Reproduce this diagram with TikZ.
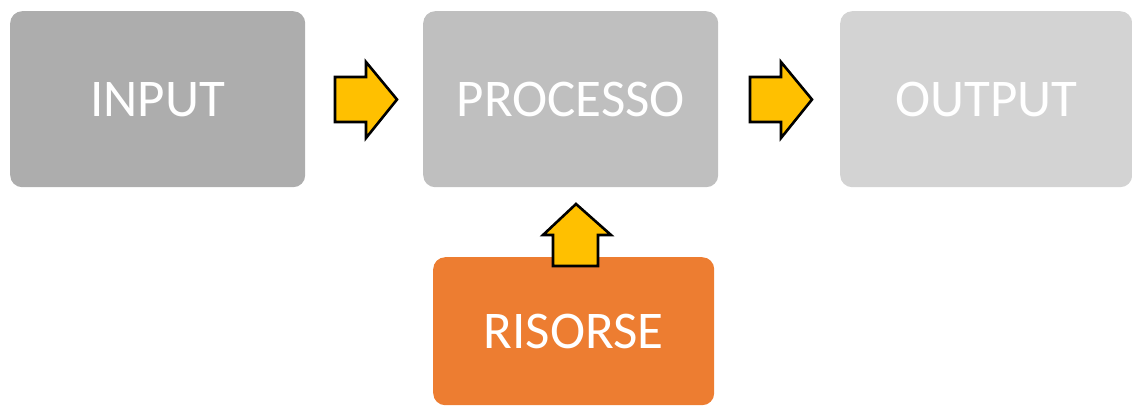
\documentclass[tikz,border=0pt]{standalone}
\usepackage{fontspec}
\setmainfont{Carlito}
\definecolor{inputgray}{HTML}{ADADAD}
\definecolor{procgray}{HTML}{BFBFBF}
\definecolor{outgray}{HTML}{D3D3D3}
\definecolor{resorange}{HTML}{ED7D31}
\definecolor{arrowgold}{HTML}{FFC000}
\tikzset{
  stagebox/.style={rounded corners=12pt, inner sep=0pt, anchor=north west,
    text=white, font=\fontsize{53}{60}\selectfont},
  blockarrow/.style={fill=arrowgold, draw=black, line width=2.6pt, line join=miter}
}
\begin{document}
\begin{tikzpicture}[x=1pt, y=-1pt]
\useasboundingbox (0,0) rectangle (1132,405);
% stage boxes
\node[stagebox, fill=inputgray, minimum width=295pt, minimum height=176pt] (in) at (10,11) {INPUT};
\node[stagebox, fill=procgray, minimum width=295pt, minimum height=176pt] (proc) at (423,11) {PROCESSO};
\node[stagebox, fill=outgray, minimum width=292pt, minimum height=176pt] (out) at (840,11) {OUTPUT};
\node[stagebox, fill=resorange, minimum width=281pt, minimum height=148pt] (res) at (433,257) {RISORSE};
% block arrows between the stages
\draw[blockarrow] (335,77) -- (366,77) -- (366,62) -- (397,99.5) -- (366,138) -- (366,122) -- (335,122) -- cycle;
\draw[blockarrow] (750,77) -- (781,77) -- (781,62) -- (812,99.5) -- (781,138) -- (781,122) -- (750,122) -- cycle;
% resources feeding the process
\draw[blockarrow] (553,266) -- (553,235) -- (543,235) -- (576,204) -- (611,235) -- (598,235) -- (598,266) -- cycle;
\end{tikzpicture}
\end{document}
